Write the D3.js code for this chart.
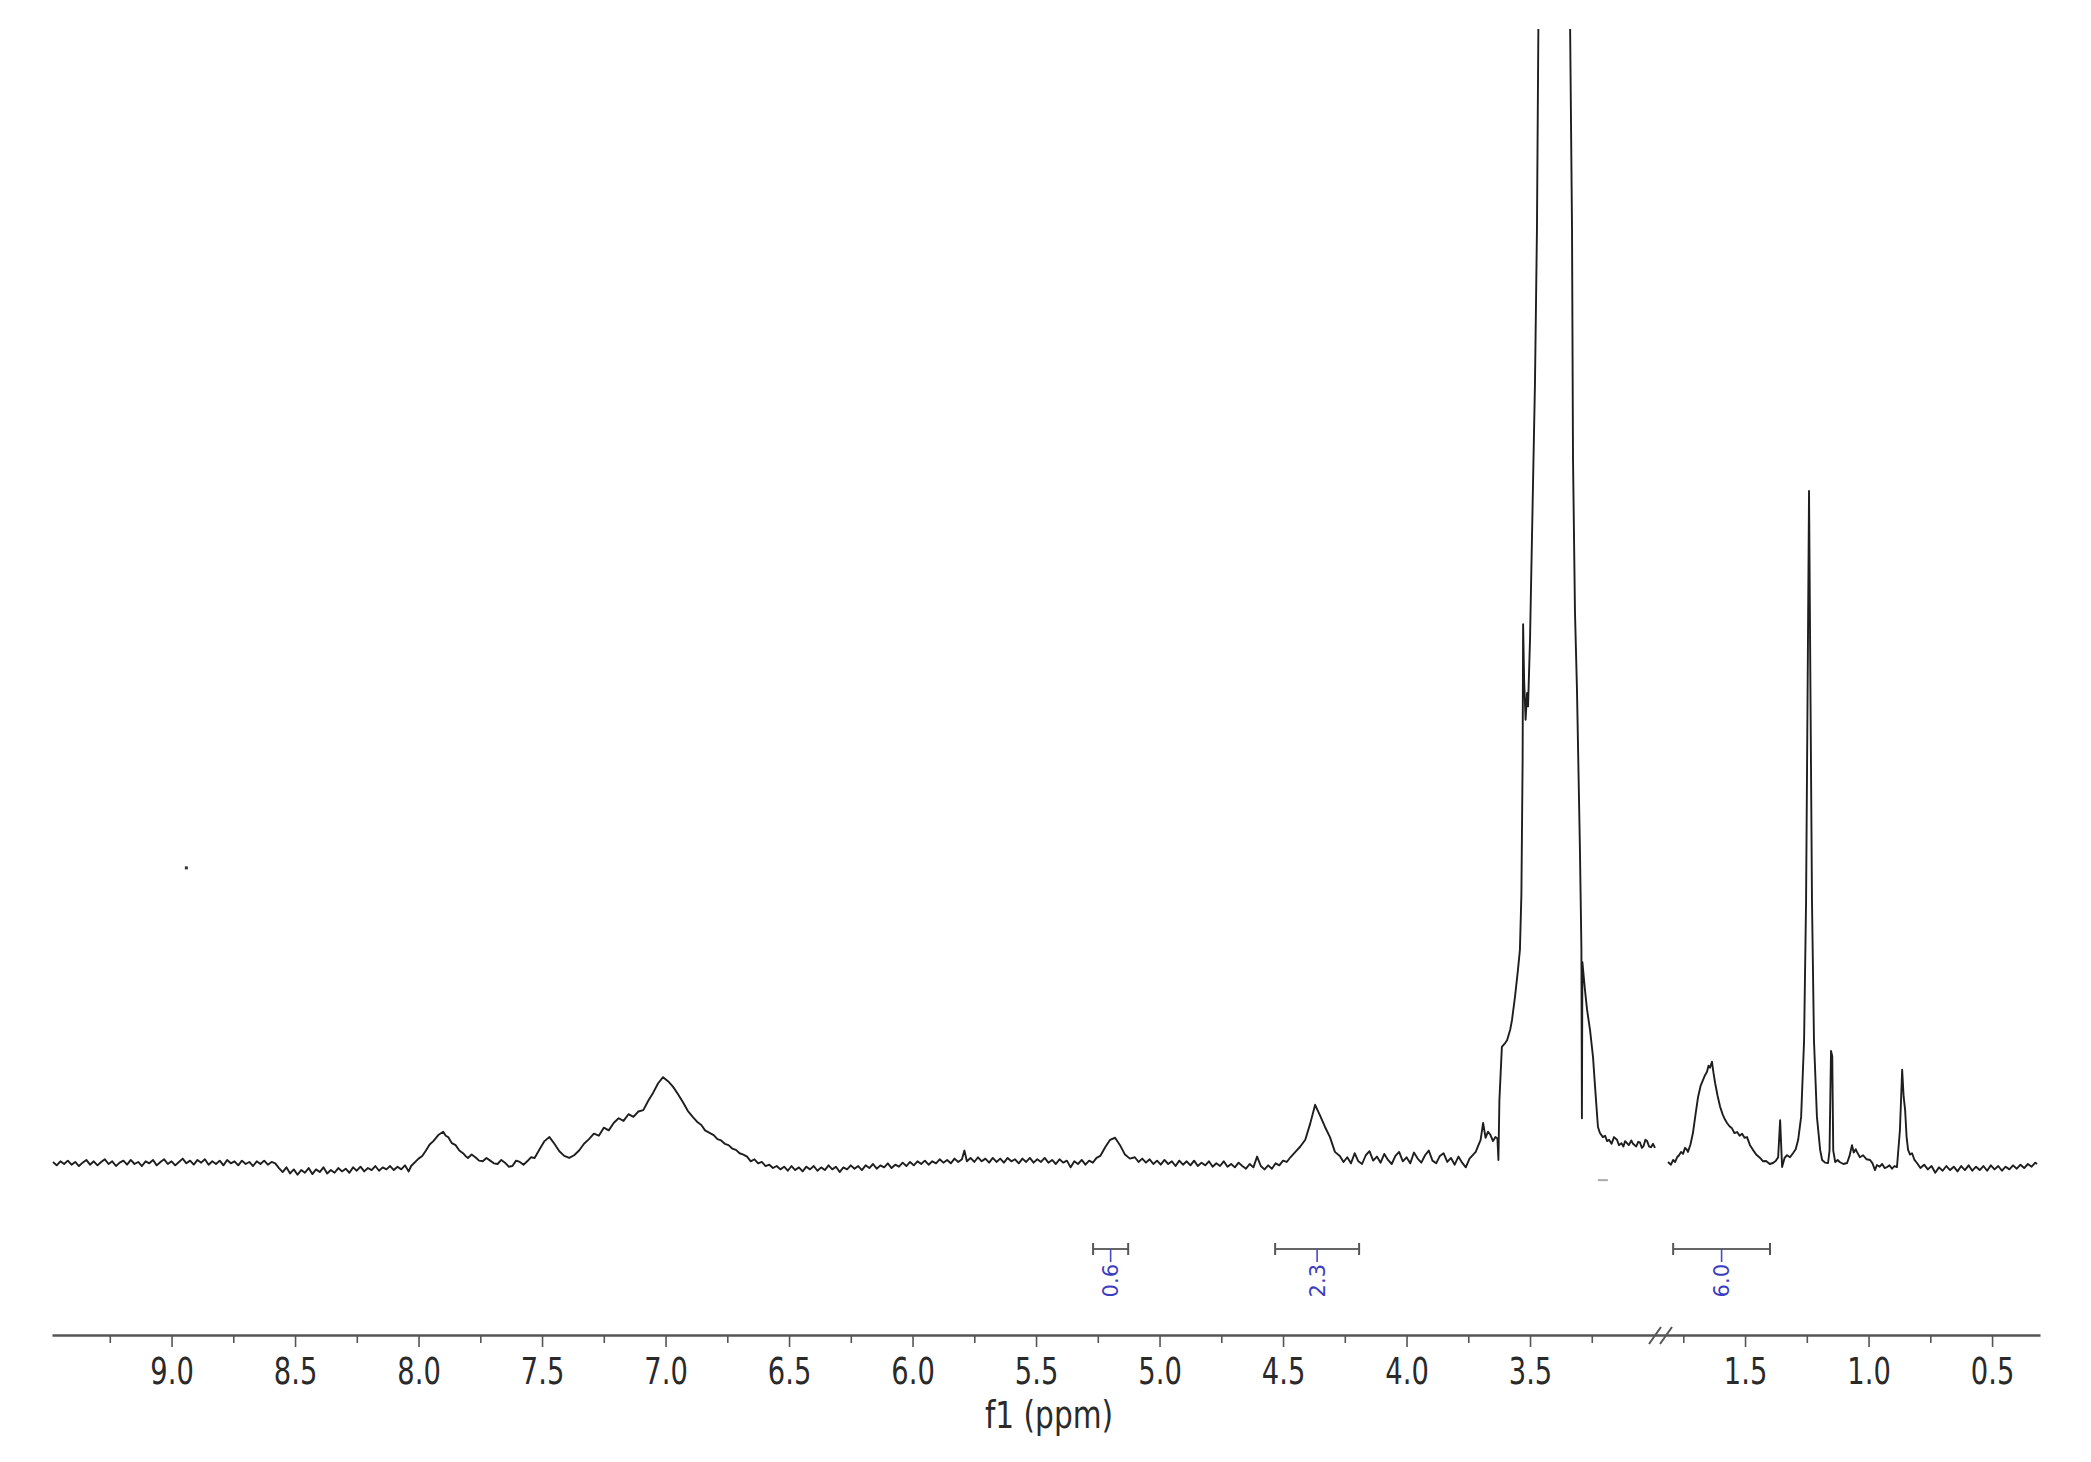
<!DOCTYPE html>
<html>
<head>
<meta charset="utf-8">
<script src="https://cdn.jsdelivr.net/npm/d3@7"></script>
<style>
  html, body { margin: 0; padding: 0; background: #ffffff; }
  svg { display: block; }
</style>
</head>
<body>
<svg id="chart" width="2091" height="1462"></svg>
<script>
// ---------------- DATA ----------------
// Spectrum segment 1 (9.48 -> 2.99 ppm): [ppm, intensity]; intensity 100 = 1.24 ppm peak
const spectrumLeft = [
[9.480,0.3],[9.465,-0.2],[9.450,0.4],[9.435,0.0],[9.420,0.5],[9.405,-0.1],[9.390,0.3],[9.375,-0.3],[9.360,0.2],[9.345,0.6],
[9.330,-0.1],[9.315,0.4],[9.300,-0.2],[9.285,0.3],[9.270,0.7],[9.255,0.0],[9.240,0.4],[9.225,-0.3],[9.210,0.2],[9.195,0.5],
[9.180,-0.1],[9.165,0.6],[9.150,0.0],[9.135,0.3],[9.120,-0.3],[9.105,0.4],[9.090,0.1],[9.075,0.6],[9.060,-0.2],[9.045,0.3],
[9.030,0.7],[9.015,0.0],[9.000,0.4],[8.985,-0.2],[8.970,0.3],[8.955,0.8],[8.940,0.1],[8.925,0.5],[8.910,-0.1],[8.895,0.6],
[8.880,0.2],[8.865,0.7],[8.850,-0.1],[8.835,0.4],[8.820,0.0],[8.805,0.5],[8.790,-0.2],[8.775,0.6],[8.760,0.1],[8.745,0.4],
[8.730,-0.2],[8.715,0.5],[8.700,0.0],[8.685,0.3],[8.670,-0.3],[8.655,0.4],[8.640,0.0],[8.625,0.5],[8.610,-0.1],[8.595,0.3],
[8.580,0.1],[8.565,-0.6],[8.550,-1.2],[8.535,-0.5],[8.520,-1.4],[8.505,-0.8],[8.490,-1.6],[8.475,-0.9],[8.460,-1.3],[8.445,-0.6],
[8.430,-1.5],[8.415,-0.8],[8.400,-1.2],[8.385,-0.5],[8.370,-1.4],[8.355,-0.9],[8.340,-1.3],[8.325,-0.6],[8.310,-1.1],[8.295,-0.7],
[8.280,-1.3],[8.265,-0.5],[8.250,-1.0],[8.235,-0.4],[8.220,-1.1],[8.205,-0.6],[8.190,-0.9],[8.175,-0.3],[8.160,-1.0],[8.145,-0.5],
[8.130,-0.8],[8.115,-0.3],[8.100,-0.9],[8.085,-0.4],[8.070,-0.8],[8.055,-0.2],[8.040,-1.1],[8.030,-0.3],
[8.00,0.8],[7.985,1.2],[7.97,2.0],[7.955,2.9],[7.94,3.4],[7.92,4.3],[7.90,4.8],[7.89,4.2],[7.88,4.0],[7.865,3.1],[7.85,2.8],
[7.835,2.0],[7.82,1.6],[7.81,1.2],[7.80,0.9],[7.785,1.4],[7.77,1.0],[7.755,0.5],[7.74,0.4],[7.725,0.9],[7.71,0.5],
[7.695,0.1],[7.68,0.0],[7.665,0.6],[7.65,0.2],[7.635,-0.4],[7.62,-0.3],[7.605,0.5],[7.59,0.3],[7.575,-0.1],[7.56,0.4],
[7.545,1.0],[7.53,0.9],[7.51,2.2],[7.49,3.4],[7.47,4.0],[7.45,3.0],[7.43,1.9],[7.41,1.2],[7.39,0.9],[7.37,1.3],
[7.35,2.0],[7.33,3.0],[7.31,3.7],[7.29,4.5],[7.27,4.2],[7.25,5.4],[7.23,5.0],[7.21,6.1],[7.19,6.8],[7.17,6.4],
[7.15,7.4],[7.13,7.0],[7.11,7.8],[7.09,8.0],[7.07,9.4],[7.05,10.6],[7.03,12.0],[7.01,12.9],[6.99,12.3],[6.97,11.5],
[6.95,10.4],[6.93,9.2],[6.91,7.9],[6.89,7.0],[6.87,6.2],[6.855,5.8],[6.84,5.0],[6.82,4.6],[6.805,4.3],[6.79,3.7],
[6.775,3.5],[6.76,3.0],[6.745,2.8],[6.73,2.3],[6.715,2.1],[6.70,1.6],[6.685,1.4],[6.67,1.1],[6.655,0.4],[6.64,0.7],
[6.625,0.1],[6.61,0.3],[6.595,-0.3],[6.58,-0.1],[6.565,-0.6],
[6.550,-0.3],[6.535,-0.8],[6.520,-0.4],[6.505,-1.0],[6.490,-0.3],[6.475,-0.9],[6.460,-0.5],[6.445,-1.1],[6.430,-0.4],[6.415,-0.8],
[6.400,-0.3],[6.385,-1.0],[6.370,-0.5],[6.355,-0.9],[6.340,-0.2],[6.325,-0.8],[6.310,-0.4],[6.295,-1.2],[6.280,-0.5],[6.265,-0.8],
[6.250,-0.2],[6.235,-0.7],[6.220,-0.3],[6.205,-0.9],[6.190,-0.2],[6.175,-0.6],[6.160,0.0],[6.145,-0.7],[6.130,-0.2],[6.115,-0.5],
[6.100,0.1],[6.085,-0.6],[6.070,-0.1],[6.055,-0.4],[6.040,0.2],[6.025,-0.3],[6.010,0.3],[5.995,-0.2],[5.980,0.4],[5.965,0.0],
[5.950,0.5],[5.935,-0.1],[5.920,0.4],[5.905,0.1],[5.890,0.7],[5.875,0.2],[5.860,0.6],[5.845,0.1],[5.830,0.8],[5.815,0.3],
[5.800,0.7],[5.790,2.0],[5.780,0.4],[5.765,0.9],[5.750,0.3],[5.735,1.0],[5.720,0.4],[5.705,0.8],[5.690,0.2],[5.675,0.9],
[5.660,0.3],[5.645,0.8],[5.630,0.2],[5.615,0.9],[5.600,0.4],[5.585,0.7],[5.570,0.1],[5.555,0.8],[5.540,0.3],[5.525,0.9],
[5.510,0.2],[5.495,0.7],[5.480,0.3],[5.465,0.9],[5.450,0.2],[5.435,0.6],[5.420,0.0],[5.405,0.7],[5.390,0.2],[5.375,0.5],
[5.360,-0.5],[5.345,0.4],[5.330,0.0],[5.315,0.6],[5.300,-0.1],[5.285,0.5],[5.270,0.2],[5.255,0.9],
[5.24,1.2],[5.22,2.5],[5.20,3.6],[5.18,3.9],[5.16,2.8],[5.14,1.4],[5.12,0.8],
[5.100,1.0],[5.085,0.3],[5.070,0.8],[5.055,0.2],[5.040,0.7],[5.025,0.0],[5.010,0.5],[4.995,-0.1],[4.980,0.6],[4.965,0.0],
[4.950,0.4],[4.935,-0.3],[4.920,0.5],[4.905,-0.1],[4.890,0.4],[4.875,-0.2],[4.860,0.5],[4.845,-0.3],[4.830,0.2],[4.815,-0.2],
[4.800,0.4],[4.785,-0.4],[4.770,0.1],[4.755,-0.3],[4.740,0.4],[4.725,-0.4],[4.710,0.0],[4.695,-0.5],[4.680,0.2],[4.665,-0.3],
[4.650,-0.7],[4.635,0.0],[4.620,-0.5],[4.605,1.1],[4.590,-0.3],[4.575,-0.8],[4.560,-0.2],[4.545,-0.7],[4.530,0.1],[4.515,-0.2],
[4.500,0.5],[4.485,0.3],[4.470,1.0],
[4.45,1.8],[4.43,2.6],[4.41,3.6],[4.39,6.0],[4.37,8.8],[4.35,7.2],[4.33,5.5],[4.31,4.0],[4.29,1.8],
[4.270,1.2],[4.255,0.3],[4.240,1.0],[4.225,0.1],[4.210,1.6],[4.195,0.4],[4.180,0.0],[4.165,1.3],[4.150,1.9],[4.135,0.5],
[4.120,1.1],[4.105,0.2],[4.090,1.5],[4.075,0.6],[4.060,0.0],[4.045,1.2],[4.030,1.8],[4.015,0.4],[4.000,1.0],[3.985,0.1],
[3.970,1.7],[3.955,0.8],[3.940,0.2],[3.925,1.3],[3.910,2.0],[3.895,0.5],[3.880,0.1],[3.865,1.2],[3.850,1.6],[3.835,0.3],
[3.820,0.9],[3.805,-0.1],[3.790,1.1],[3.775,0.2],[3.760,-0.5],[3.745,0.8],[3.730,1.4],
[3.72,1.8],[3.70,3.6],[3.69,6.1],[3.68,3.9],[3.67,4.8],[3.66,4.3],[3.65,3.4],[3.64,4.0],[3.632,3.8],[3.628,0.6],
[3.624,9.5],[3.614,17.4],[3.60,18.0],[3.593,18.4],[3.58,20.0],[3.573,21.4],[3.561,24.8],[3.549,28.8],[3.541,31.8],[3.535,40.0],
[3.530,60.0],[3.528,80.2],[3.524,72.0],[3.518,66.0],[3.512,70.0],[3.508,68.0],[3.500,78.0],[3.492,93.3],[3.480,116],[3.472,138.8],
[3.466,170],[3.456,230],[3.435,330],[3.403,420],[3.371,330],[3.350,230],[3.338,170],[3.330,138.8],[3.326,104.8],[3.318,82.0],
[3.310,70.6],[3.298,46.8],[3.292,32.0],[3.290,6.8],[3.288,30.0],[3.278,26.0],[3.269,22.9],[3.257,19.9],[3.245,15.9],[3.237,11.6],
[3.225,5.5],[3.217,4.6],[3.205,4.0],[3.196,4.2],[3.188,3.4],[3.18,3.6],[3.17,3.0],[3.16,4.0],[3.148,3.6],[3.14,2.8],
[3.13,3.1],[3.122,2.6],[3.115,3.4],[3.10,2.8],[3.09,3.5],[3.083,3.0],[3.07,2.6],[3.062,3.3],[3.055,3.2],[3.047,2.4],
[3.04,2.7],[3.033,3.6],[3.026,3.4],[3.018,2.6],[3.01,2.5],[3.002,3.0],[2.994,2.4]
];

// Spectrum segment 2 (1.81 -> 0.32 ppm)
const spectrumRight = [
[1.812,0.3],[1.800,-0.1],[1.791,0.6],[1.783,0.3],[1.775,1.0],[1.767,1.3],[1.759,1.8],[1.751,1.5],[1.743,2.4],[1.737,2.2],
[1.731,1.8],[1.721,2.9],[1.711,4.6],[1.700,7.5],[1.690,10.0],[1.680,11.6],[1.670,12.5],[1.662,13.2],[1.654,13.7],[1.648,14.6],
[1.642,14.3],[1.634,15.2],[1.628,13.6],[1.621,12.0],[1.611,10.1],[1.601,8.5],[1.590,7.3],[1.581,6.6],[1.573,6.1],[1.563,5.6],
[1.553,5.3],[1.543,4.6],[1.532,4.75],[1.522,4.2],[1.512,4.5],[1.502,3.9],[1.492,4.0],[1.480,2.8],[1.468,2.1],[1.455,1.4],
[1.439,0.9],[1.427,0.4],[1.415,0.45],[1.400,0.0],[1.387,0.15],[1.375,0.5],[1.366,1.0],[1.358,6.5],[1.350,-0.45],[1.340,0.9],
[1.330,1.3],[1.318,1.0],[1.306,1.6],[1.295,2.2],[1.285,3.6],[1.273,7.0],[1.261,18.4],[1.253,39],[1.247,69],[1.241,100],
[1.235,69],[1.229,39],[1.221,18.4],[1.209,7.0],[1.196,2.1],[1.188,0.6],[1.176,0.2],[1.164,0.15],[1.158,2.0],[1.152,16.8],
[1.147,16.0],[1.143,2.0],[1.135,0.3],[1.125,0.6],[1.117,0.3],[1.102,0.0],[1.087,0.15],[1.077,1.2],[1.067,2.8],[1.060,1.7],
[1.052,2.2],[1.047,1.8],[1.035,1.0],[1.022,1.3],[1.008,0.7],[0.994,0.6],[0.984,0.1],[0.974,-0.9],[0.966,-0.15],[0.955,-0.4],
[0.945,0.0],[0.935,-0.6],[0.925,-0.45],[0.915,-0.2],[0.905,-0.7],[0.895,-0.3],[0.885,-0.45],[0.873,5.05],[0.864,14.0],[0.858,10.0],
[0.852,8.0],[0.846,4.0],[0.840,2.1],[0.832,1.4],[0.824,1.6],[0.814,0.6],
[0.804,0.15],[0.790,-0.6],[0.775,-0.1],[0.760,-0.8],[0.745,-0.3],[0.730,-1.3],[0.715,-0.5],[0.700,-1.0],[0.685,-0.3],[0.670,-0.9],
[0.655,-0.4],[0.640,-1.1],[0.625,-0.3],[0.610,-0.9],[0.595,-0.2],[0.580,-1.0],[0.565,-0.4],[0.550,-0.9],[0.535,-0.3],[0.520,-1.0],
[0.505,-0.2],[0.490,-0.8],[0.475,-0.3],[0.460,-1.0],[0.445,-0.4],[0.430,-0.8],[0.415,-0.2],[0.400,-0.7],[0.385,-0.1],[0.370,-0.6],
[0.355,0.0],[0.340,-0.4],[0.325,0.2],[0.318,0.0]
];

// stray marks on the plot [ppm, intensity]
const specks = [[8.94, 44]];
const dashes = [[3.205, -2.4]];

// integrals
const integralFrom   = [5.269, 4.532, 1.791];
const integralTo     = [5.127, 4.192, 1.399];
const integralLabels = ["0.6", "2.3", "6.0"];

// axis ticks
const majorTicks = [9.0, 8.5, 8.0, 7.5, 7.0, 6.5, 6.0, 5.5, 5.0, 4.5, 4.0, 3.5, 1.5, 1.0, 0.5];
const minorTicks = [9.25, 8.75, 8.25, 7.75, 7.25, 6.75, 6.25, 5.75, 5.25, 4.75, 4.25, 3.75, 3.25, 1.75, 1.25, 0.75];
const axisTitle = "f1 (ppm)";

// broken axis domain (ppm): [left start, left end, right start, right end]
const ppmDomain = [9.484, 2.99, 1.82, 0.306];

// ---------------- DRAW ----------------
const svg = d3.select("#chart");
const FONT = "'DejaVu Sans', Verdana, sans-serif";

const x = d3.scaleLinear().domain(ppmDomain).range([52, 1656, 1666, 2040]);
const y = d3.scaleLinear().domain([0, 100]).range([1164, 491]);
const axisY = 1335;

svg.append("rect").attr("width", 2091).attr("height", 1462).attr("fill", "#ffffff");

svg.append("defs").append("clipPath").attr("id", "plotclip")
  .append("rect").attr("x", 40).attr("y", 29).attr("width", 2020).attr("height", 1250);

const line = d3.line().x(d => x(d[0])).y(d => y(d[1]));

const plot = svg.append("g").attr("clip-path", "url(#plotclip)");
[spectrumLeft, spectrumRight].forEach(seg => {
  plot.append("path")
    .datum(seg)
    .attr("d", line)
    .attr("fill", "none")
    .attr("stroke", "#1e1e1e")
    .attr("stroke-width", 1.9)
    .attr("stroke-linejoin", "round");
});

plot.selectAll("rect.speck").data(specks).enter().append("rect")
  .attr("class", "speck")
  .attr("x", d => x(d[0]) - 1.5).attr("y", d => y(d[1]) - 1.5)
  .attr("width", 3).attr("height", 3).attr("fill", "#333");

plot.selectAll("rect.dash").data(dashes).enter().append("rect")
  .attr("class", "dash")
  .attr("x", d => x(d[0]) - 5).attr("y", d => y(d[1]) - 1)
  .attr("width", 10).attr("height", 2).attr("fill", "#aaa");

// integrals
const barY = 1249;
const integ = svg.append("g");
integralLabels.forEach((lab, i) => {
  const x0 = x(integralFrom[i]), x1 = x(integralTo[i]);
  const xc = (x0 + x1) / 2;
  const g = integ.append("g");
  g.append("line").attr("x1", x0).attr("x2", x1).attr("y1", barY).attr("y2", barY)
    .attr("stroke", "#666").attr("stroke-width", 2.2);
  [x0, x1].forEach(xx => g.append("line").attr("x1", xx).attr("x2", xx)
    .attr("y1", barY - 6).attr("y2", barY + 6).attr("stroke", "#555").attr("stroke-width", 2));
  g.append("line").attr("x1", xc).attr("x2", xc).attr("y1", barY).attr("y2", barY + 13)
    .attr("stroke", "#4a4ac0").attr("stroke-width", 1.6);
  g.append("text")
    .attr("transform", `translate(${xc},${barY + 15}) rotate(-90)`)
    .attr("text-anchor", "end")
    .attr("dy", "0.36em")
    .attr("font-family", FONT)
    .attr("font-size", 21)
    .attr("fill", "#3c3cc0")
    .text(lab);
});

// axis
const axisG = svg.append("g").attr("transform", `translate(0,${axisY})`);
axisG.call(d3.axisBottom(x).tickValues(majorTicks).tickSize(12).tickSizeOuter(0)
  .tickPadding(11).tickFormat(d3.format(".1f")));
axisG.select(".domain").attr("stroke", "#555").attr("stroke-width", 2.4);
axisG.selectAll(".tick line").attr("stroke", "#555").attr("stroke-width", 1.6);
axisG.selectAll(".tick text")
  .attr("font-family", FONT).attr("font-size", 37).attr("fill", "#2a2a2a")
  .attr("transform", "scale(0.74,1)");

const minorG = svg.append("g").attr("transform", `translate(0,${axisY})`);
minorG.call(d3.axisBottom(x).tickValues(minorTicks).tickSize(8).tickSizeOuter(0).tickFormat(""));
minorG.select(".domain").remove();
minorG.selectAll(".tick line").attr("stroke", "#555").attr("stroke-width", 1.6);

// break marks on axis
const bx = (x(ppmDomain[1]) + x(ppmDomain[2])) / 2;
[-6, 5].forEach(off => {
  svg.append("line")
    .attr("x1", bx + off - 6).attr("y1", axisY + 9)
    .attr("x2", bx + off + 6).attr("y2", axisY - 8)
    .attr("stroke", "#555").attr("stroke-width", 2);
});

// axis title
svg.append("text")
  .attr("transform", `translate(1049,1428) scale(0.8,1)`)
  .attr("text-anchor", "middle")
  .attr("font-family", FONT).attr("font-size", 37).attr("fill", "#2a2a2a")
  .text(axisTitle);
</script>
</body>
</html>
